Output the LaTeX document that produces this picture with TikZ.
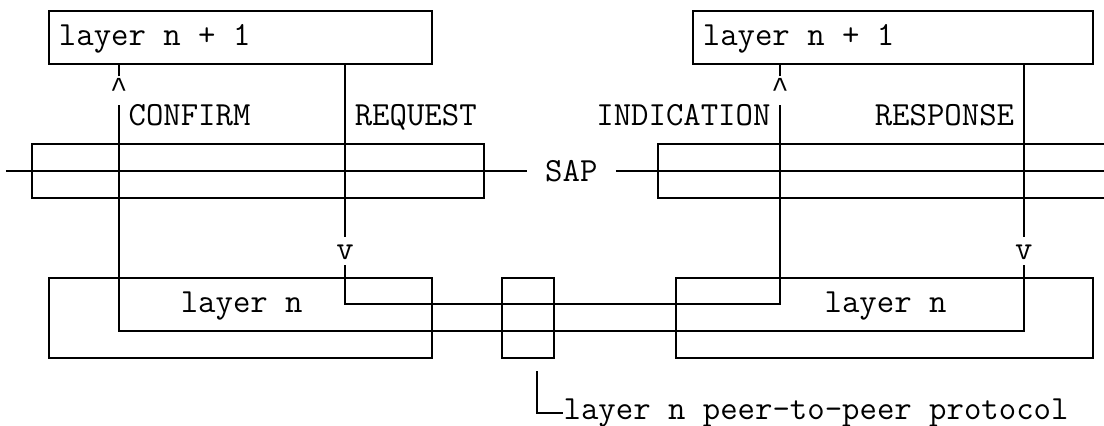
\documentclass[tikz,border=0pt]{standalone}
\usepackage{fontspec}
\newfontfamily\caretfont{Liberation Mono}
\usetikzlibrary{fit}
\tikzset{
  box/.style={draw,inner sep=0pt},
  lbl/.style={inner sep=0pt,anchor=base west,font=\ttfamily\fontsize{16.9}{16.9}\selectfont},
  tip/.style={inner sep=0pt,text height=10.8pt,text depth=2.55pt,font=\ttfamily\fontsize{16.9}{16.9}\selectfont},
  up/.style={tip,text height=10pt,text depth=3.35pt,font=\caretfont\fontsize{14.5}{14.5}\selectfont}
}
\begin{document}
\begin{tikzpicture}[x=8.7pt,y=-13.35pt,line width=1pt]
\useasboundingbox (-2.833,-0.4) rectangle (60.61,15.55);
% layer n + 1
\node[box,fit={(0,0) (22,2)}] (upL) {};
\node[box,fit={(37,0) (60,2)}] (upR) {};
\node[lbl] (upLtxt) at (0.5,1.31) {layer n + 1};
\node[lbl] (upRtxt) at (37.5,1.31) {layer n + 1};
% service access point
\node[box,fit={(-1,5) (25,7)}] (sapL) {};
\node[box,fit={(35,5) (62,7)}] (sapR) {};
\node[lbl,anchor=center,inner xsep=8.7pt] (sap) at (30,6) {SAP};
\coordinate (sapin) at (-2.5,6);
\coordinate (sapout) at (62,6);
\draw (sapin) -- (sap.west);
\draw (sap.east) -- (sapout);
% layer n
\node[box,fit={(0,10) (22,13)}] (lowL) {};
\node[box,fit={(26,10) (29,13)}] (peer) {};
\node[box,fit={(36,10) (60,13)}] (lowR) {};
\node[lbl] (lowLtxt) at (7.5,11.31) {layer n};
\node[lbl] (lowRtxt) at (44.5,11.31) {layer n};
% primitives
\node[up] (conf) at (4,3) {\^{}};
\node[tip] (req) at (17,9) {v};
\node[up] (ind) at (42,3) {\^{}};
\node[tip] (resp) at (56,9) {v};
\node[lbl] (conftxt) at (4.5,4.31) {CONFIRM};
\node[lbl] (reqtxt) at (17.5,4.31) {REQUEST};
\node[lbl,anchor=base east] (indtxt) at (41.5,4.31) {INDICATION};
\node[lbl,anchor=base east] (resptxt) at (55.5,4.31) {RESPONSE};
\coordinate (reqturn) at (17,11);
\coordinate (respturn) at (56,12);
\draw (upL.south -| req) -- (req.north);
\draw (req.south) -- (reqturn) -| (ind.south);
\draw (ind.north) -- (upR.south -| ind);
\draw (upR.south -| resp) -- (resp.north);
\draw (resp.south) -- (respturn) -| (conf.south);
\draw (conf.north) -- (upL.south -| conf);
% peer protocol
\node[lbl] (proto) at (29.5,15.31) {layer n peer-to-peer protocol};
\coordinate (protoin) at (28,13.5);
\draw (protoin) |- (proto.west);
\end{tikzpicture}
\end{document}
